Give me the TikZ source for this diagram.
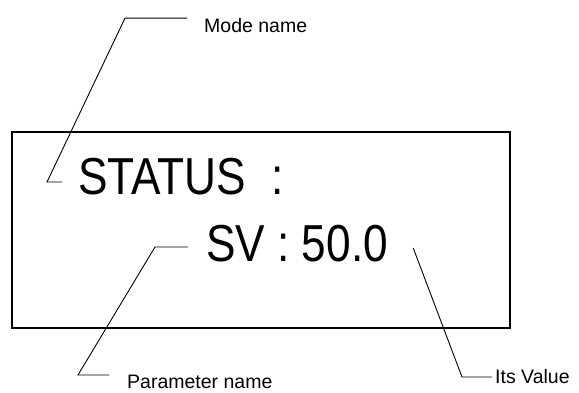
\documentclass[tikz,border=0pt]{standalone}
\usepackage{fontspec}
\setmainfont{Liberation Sans}
\newfontfamily\lcdfont[FakeStretch=0.85]{Liberation Sans}
\usetikzlibrary{positioning}

\begin{document}
\begin{tikzpicture}[x=1pt, y=-1pt, font=\fontsize{19.5}{22}\selectfont,
    lbl/.style={inner sep=0pt, anchor=west},
    lcd/.style={inner sep=0pt, anchor=west, font=\lcdfont\fontsize{52}{60}\selectfont},
    lead/.style={line width=0.9pt}]
    \useasboundingbox (0,0) rectangle (579,393);

    % Display
    \draw[line width=1.3pt] (12,132) rectangle (510,328);
    \node[lcd] (status) at (78,176.5) {STATUS\hspace{25pt}:};
    \node[lcd] (sv) at (206,244) {SV : 50.0};

    % Labels
    \node[lbl] (modelbl) at (204,25.5) {Mode name};
    \node[lbl] (parlbl) at (127,382) {Parameter name};
    \node[lbl] (vallbl) at (495,377) {Its Value};

    % Leader ends
    \coordinate (modetip) at ([xshift=-16pt, yshift=-5.5pt]status.west);
    \coordinate (partip) at ([xshift=-18pt, yshift=-3pt]sv.west);
    \coordinate (valtip) at ([xshift=25pt, yshift=-4pt]sv.east);

    % Leaders
    \draw[lead] ([xshift=-17pt]modelbl.north west) -- ++(-62,0) -- (47,182) -- (modetip);
    \draw[lead] ([xshift=-18pt]parlbl.north west) -- ++(-31,0) -- (155,247) -- (partip);
    \draw[lead] ([xshift=-3pt]vallbl.west) -- ++(-30,0) -- (valtip);
\end{tikzpicture}
\end{document}
